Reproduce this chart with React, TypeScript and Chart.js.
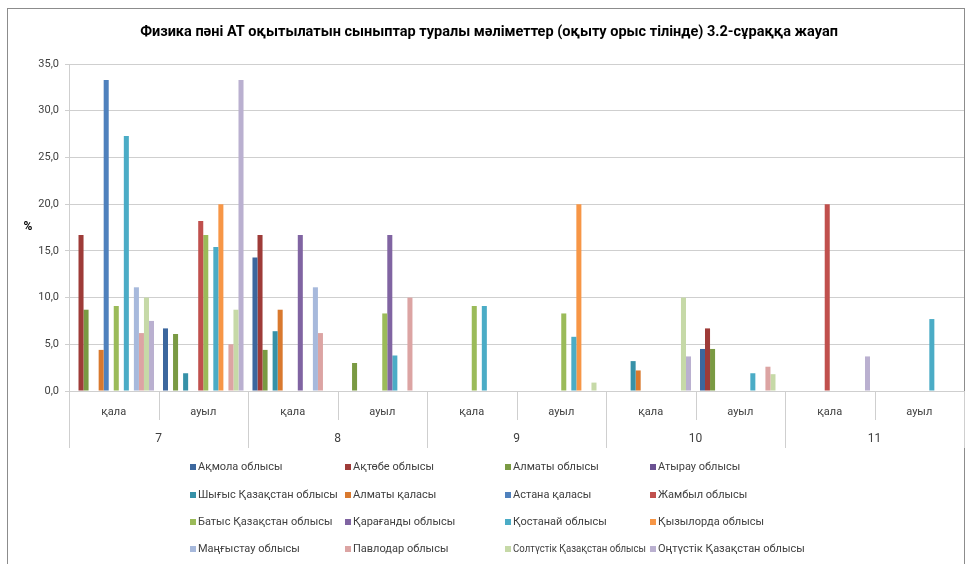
import React, { useEffect, useRef } from 'react';
import { Chart, registerables } from 'chart.js';

Chart.register(...registerables);

const TITLE = 'Физика пәні АТ оқытылатын сыныптар туралы мәліметтер (оқыту орыс тілінде) 3.2-сұраққа жауап';
const Y_LABEL = '%';

const categories = ['қала', 'ауыл', 'қала', 'ауыл', 'қала', 'ауыл', 'қала', 'ауыл', 'қала', 'ауыл'];
const groups = ['7', '8', '9', '10', '11'];

const seriesNames = [
  'Ақмола облысы', 'Ақтөбе облысы', 'Алматы облысы', 'Атырау облысы',
  'Шығыс Қазақстан облысы', 'Алматы қаласы', 'Астана қаласы', 'Жамбыл облысы',
  'Батыс Қазақстан облысы', 'Қарағанды облысы', 'Қостанай облысы', 'Қызылорда облысы',
  'Маңғыстау облысы', 'Павлодар облысы', 'Солтүстік Қазақстан облысы', 'Оңтүстік Қазақстан облысы',
];

const akmola = [0, 6.7, 14.3, 0, 0, 0, 0, 4.5, 0, 0];
const aktobe = [16.7, 0, 16.7, 0, 0, 0, 0, 6.7, 0, 0];
const almatyObl = [8.7, 6.1, 4.4, 3.0, 0, 0, 0, 4.5, 0, 0];
const atyrau = [0, 0, 0, 0, 0, 0, 0, 0, 0, 0];
const shygys = [0, 1.9, 6.4, 0, 0, 0, 3.2, 0, 0, 0];
const almatyQ = [4.4, 0, 8.7, 0, 0, 0, 2.2, 0, 0, 0];
const astana = [33.3, 0, 0, 0, 0, 0, 0, 0, 0, 0];
const zhambyl = [0, 18.2, 0, 0, 0, 0, 0, 0, 20.0, 0];
const batys = [9.1, 16.7, 0, 8.3, 9.1, 8.3, 0, 0, 0, 0];
const karaganda = [0, 0, 16.7, 16.7, 0, 0, 0, 0, 0, 0];
const kostanai = [27.3, 15.4, 0, 3.8, 9.1, 5.8, 0, 1.9, 0, 7.7];
const kyzylorda = [0, 20.0, 0, 0, 0, 20.0, 0, 0, 0, 0];
const mangystau = [11.1, 0, 11.1, 0, 0, 0, 0, 0, 0, 0];
const pavlodar = [6.2, 5.0, 6.2, 10.0, 0, 0, 0, 2.6, 0, 0];
const soltustik = [10.0, 8.7, 0, 0, 0, 0.9, 10.0, 1.8, 0, 0];
const ontustik = [7.5, 33.3, 0, 0, 0, 0, 3.7, 0, 3.7, 0];

const seriesValues = [
  akmola, aktobe, almatyObl, atyrau, shygys, almatyQ, astana, zhambyl,
  batys, karaganda, kostanai, kyzylorda, mangystau, pavlodar, soltustik, ontustik,
];

const colors = [
  '#3C679E', '#9E3B38', '#7A9A43', '#6A5192', '#3691A8', '#D9792E', '#4F81BD', '#C0504D',
  '#9BBB59', '#8064A2', '#4BACC6', '#F79646', '#A7B9DC', '#DCA4A3', '#C6D9A7', '#BAB0D0',
];

const FONT = 'Roboto, "Liberation Sans", sans-serif';

const legendCols = [190, 345, 505, 650];
const legendRows = [467, 495, 522, 549];

const decorPlugin = {
  id: 'decor',
  afterDraw(chart: any) {
    const ctx = chart.ctx as CanvasRenderingContext2D;
    const xs = chart.scales.x;
    const area = chart.chartArea;
    ctx.save();
    // outer frame
    ctx.strokeStyle = '#8C8C8C';
    ctx.lineWidth = 1;
    ctx.strokeRect(7.5, 8.5, 957, 600);

    // title
    ctx.fillStyle = '#000';
    ctx.textAlign = 'center';
    ctx.textBaseline = 'middle';
    ctx.font = `bold 14.5px ${FONT}`;
    ctx.fillText(TITLE, 489, 32, 706);

    // y label
    ctx.font = `bold 12px ${FONT}`;
    ctx.fillText(Y_LABEL, 28, 227);

    // multi-level category axis
    const bottom = area.bottom;
    const n = categories.length;
    const w = xs.getPixelForValue(1) - xs.getPixelForValue(0);
    const start = xs.getPixelForValue(0) - w / 2;
    ctx.strokeStyle = '#CFCFCF';
    ctx.lineWidth = 1;
    for (let i = 0; i <= n; i++) {
      const px = Math.round(start + i * w) + 0.5;
      const len = i % 2 === 0 ? 57 : 29;
      ctx.beginPath();
      ctx.moveTo(px, bottom);
      ctx.lineTo(px, bottom + len);
      ctx.stroke();
    }
    ctx.fillStyle = '#404040';
    ctx.font = `11px ${FONT}`;
    for (let i = 0; i < n; i++) {
      ctx.fillText(categories[i], xs.getPixelForValue(i), bottom + 21);
    }
    ctx.font = `12px ${FONT}`;
    for (let g = 0; g < groups.length; g++) {
      const cx = (xs.getPixelForValue(2 * g) + xs.getPixelForValue(2 * g + 1)) / 2;
      ctx.fillText(groups[g], cx, bottom + 48);
    }

    // legend
    ctx.textAlign = 'left';
    ctx.font = `11px ${FONT}`;
    chart.data.datasets.forEach((ds: any, i: number) => {
      const col = i % 4;
      const row = Math.floor(i / 4);
      const bx = legendCols[col];
      const by = legendRows[row];
      const maxW = col < 3 ? legendCols[col + 1] - bx - 12 : 150;
      ctx.fillStyle = ds.backgroundColor;
      ctx.fillRect(bx, by - 3, 6, 6);
      ctx.fillStyle = '#404040';
      ctx.fillText(ds.label, bx + 8, by, maxW);
    });
    ctx.restore();
  },
};

export default function App() {
  const ref = useRef<HTMLCanvasElement | null>(null);
  useEffect(() => {
    if (!ref.current) return;
    const chart = new Chart(ref.current, {
      type: 'bar',
      data: {
        labels: categories,
        datasets: seriesNames.map((name, i) => ({
          label: name,
          data: seriesValues[i],
          backgroundColor: colors[i],
          borderWidth: 0,
          categoryPercentage: 0.9,
          barPercentage: 1.0,
        })),
      },
      options: {
        responsive: false,
        animation: false,
        devicePixelRatio: 1,
        layout: { padding: { left: 0, top: 64, right: 5, bottom: 173 } },
        plugins: {
          legend: { display: false },
          title: { display: false },
          tooltip: { enabled: false },
        },
        scales: {
          x: { display: false, offset: true, grid: { display: false } },
          y: {
            min: 0,
            max: 35,
            ticks: {
              stepSize: 5,
              padding: 6,
              color: '#404040',
              font: { family: FONT, size: 11 },
              callback: (v: any) => Number(v).toFixed(1).replace('.', ','),
            },
            grid: { color: '#CFCFCF', tickLength: 4, lineWidth: 1 },
            border: { color: '#CFCFCF' },
            afterFit: (s: any) => { s.width = 69; },
          },
        },
      },
      plugins: [decorPlugin],
    });
    return () => chart.destroy();
  }, []);
  return (
    <div style={{ position: 'absolute', left: 0, top: 0, width: 969, height: 564, background: '#fff' }}>
      <canvas ref={ref} width={969} height={564} />
    </div>
  );
}
